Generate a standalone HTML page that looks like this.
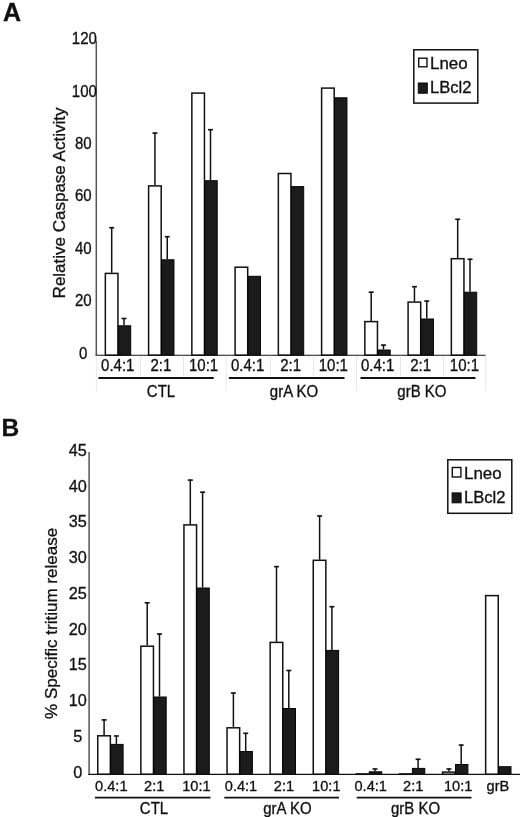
<!DOCTYPE html>
<html><head><meta charset="utf-8"><style>
html,body{margin:0;padding:0;background:#fff;}
svg{display:block;will-change:transform;}
text{font-family:"Liberation Sans", sans-serif;fill:#111;stroke:#111;stroke-width:0.3px;}
</style></head><body>
<svg width="520" height="817" viewBox="0 0 520 817">
<rect width="520" height="817" fill="#fff"/>
<text x="3" y="20.6" font-size="25" font-weight="bold">A</text>
<line x1="96.3" y1="40.7" x2="96.3" y2="355.2" stroke="#555" stroke-width="1.5"/>
<text transform="translate(83.3,358.75) scale(0.97,1.06)" font-size="15.5" text-anchor="middle">0</text>
<text transform="translate(83.3,306.31) scale(0.97,1.06)" font-size="15.5" text-anchor="middle">20</text>
<text transform="translate(83.3,253.87) scale(0.97,1.06)" font-size="15.5" text-anchor="middle">40</text>
<text transform="translate(83.3,201.43) scale(0.97,1.06)" font-size="15.5" text-anchor="middle">60</text>
<text transform="translate(83.3,148.99) scale(0.97,1.06)" font-size="15.5" text-anchor="middle">80</text>
<text transform="translate(84.4,96.55) scale(0.97,1.06)" font-size="15.5" text-anchor="middle">100</text>
<text transform="translate(84.4,44.11) scale(0.97,1.06)" font-size="15.5" text-anchor="middle">120</text>
<text transform="translate(64.8,203.0) rotate(-90)" font-size="16.3" text-anchor="middle" textLength="190.8" lengthAdjust="spacingAndGlyphs">Relative Caspase Activity</text>
<rect x="105.35" y="273.40" width="12.6" height="81.80" fill="#fff" stroke="#111" stroke-width="1.5"/>
<line x1="111.70" y1="227.20" x2="111.70" y2="272.80" stroke="#111" stroke-width="1.5"/>
<line x1="109.20" y1="227.70" x2="114.20" y2="227.70" stroke="#111" stroke-width="1.6"/>
<rect x="118.30" y="325.80" width="12.40" height="29.40" fill="#1b1b1b" stroke="#050505" stroke-width="1"/>
<line x1="124.00" y1="318.00" x2="124.00" y2="325.30" stroke="#111" stroke-width="1.5"/>
<line x1="121.50" y1="318.50" x2="126.50" y2="318.50" stroke="#111" stroke-width="1.6"/>
<rect x="148.60" y="185.90" width="12.6" height="169.30" fill="#fff" stroke="#111" stroke-width="1.5"/>
<line x1="154.95" y1="132.60" x2="154.95" y2="185.30" stroke="#111" stroke-width="1.5"/>
<line x1="152.45" y1="133.10" x2="157.45" y2="133.10" stroke="#111" stroke-width="1.6"/>
<rect x="161.55" y="259.80" width="12.40" height="95.40" fill="#1b1b1b" stroke="#050505" stroke-width="1"/>
<line x1="167.25" y1="236.20" x2="167.25" y2="259.30" stroke="#111" stroke-width="1.5"/>
<line x1="164.75" y1="236.70" x2="169.75" y2="236.70" stroke="#111" stroke-width="1.6"/>
<rect x="191.85" y="93.10" width="12.6" height="262.10" fill="#fff" stroke="#111" stroke-width="1.5"/>
<rect x="204.80" y="180.70" width="12.40" height="174.50" fill="#1b1b1b" stroke="#050505" stroke-width="1"/>
<line x1="210.50" y1="129.20" x2="210.50" y2="180.20" stroke="#111" stroke-width="1.5"/>
<line x1="208.00" y1="129.70" x2="213.00" y2="129.70" stroke="#111" stroke-width="1.6"/>
<rect x="235.10" y="267.20" width="12.6" height="88.00" fill="#fff" stroke="#111" stroke-width="1.5"/>
<rect x="248.05" y="276.30" width="12.40" height="78.90" fill="#1b1b1b" stroke="#050505" stroke-width="1"/>
<rect x="278.35" y="173.50" width="12.6" height="181.70" fill="#fff" stroke="#111" stroke-width="1.5"/>
<rect x="291.30" y="186.60" width="12.40" height="168.60" fill="#1b1b1b" stroke="#050505" stroke-width="1"/>
<rect x="321.60" y="88.10" width="12.6" height="267.10" fill="#fff" stroke="#111" stroke-width="1.5"/>
<rect x="334.55" y="97.80" width="12.40" height="257.40" fill="#1b1b1b" stroke="#050505" stroke-width="1"/>
<rect x="364.85" y="321.60" width="12.6" height="33.60" fill="#fff" stroke="#111" stroke-width="1.5"/>
<line x1="371.20" y1="291.70" x2="371.20" y2="321.00" stroke="#111" stroke-width="1.5"/>
<line x1="368.70" y1="292.20" x2="373.70" y2="292.20" stroke="#111" stroke-width="1.6"/>
<rect x="377.80" y="350.00" width="12.40" height="5.20" fill="#1b1b1b" stroke="#050505" stroke-width="1"/>
<line x1="383.50" y1="344.60" x2="383.50" y2="349.50" stroke="#111" stroke-width="1.5"/>
<line x1="381.00" y1="345.10" x2="386.00" y2="345.10" stroke="#111" stroke-width="1.6"/>
<rect x="408.10" y="302.10" width="12.6" height="53.10" fill="#fff" stroke="#111" stroke-width="1.5"/>
<line x1="414.45" y1="286.20" x2="414.45" y2="301.50" stroke="#111" stroke-width="1.5"/>
<line x1="411.95" y1="286.70" x2="416.95" y2="286.70" stroke="#111" stroke-width="1.6"/>
<rect x="421.05" y="319.00" width="12.40" height="36.20" fill="#1b1b1b" stroke="#050505" stroke-width="1"/>
<line x1="426.75" y1="300.60" x2="426.75" y2="318.50" stroke="#111" stroke-width="1.5"/>
<line x1="424.25" y1="301.10" x2="429.25" y2="301.10" stroke="#111" stroke-width="1.6"/>
<rect x="451.35" y="258.70" width="12.6" height="96.50" fill="#fff" stroke="#111" stroke-width="1.5"/>
<line x1="457.70" y1="218.80" x2="457.70" y2="258.10" stroke="#111" stroke-width="1.5"/>
<line x1="455.20" y1="219.30" x2="460.20" y2="219.30" stroke="#111" stroke-width="1.6"/>
<rect x="464.30" y="292.20" width="12.40" height="63.00" fill="#1b1b1b" stroke="#050505" stroke-width="1"/>
<line x1="470.00" y1="258.80" x2="470.00" y2="291.70" stroke="#111" stroke-width="1.5"/>
<line x1="467.50" y1="259.30" x2="472.50" y2="259.30" stroke="#111" stroke-width="1.6"/>
<line x1="95.55" y1="355.2" x2="485.6" y2="355.2" stroke="#111" stroke-width="1.15"/>
<line x1="140.50" y1="355.8" x2="140.50" y2="376" stroke="#e8e8e8" stroke-width="1"/>
<line x1="183.50" y1="355.8" x2="183.50" y2="376" stroke="#e8e8e8" stroke-width="1"/>
<line x1="226.10" y1="355.8" x2="226.10" y2="391.6" stroke="#e8e8e8" stroke-width="1"/>
<line x1="270.50" y1="355.8" x2="270.50" y2="376" stroke="#e8e8e8" stroke-width="1"/>
<line x1="313.50" y1="355.8" x2="313.50" y2="376" stroke="#e8e8e8" stroke-width="1"/>
<line x1="356.50" y1="355.8" x2="356.50" y2="391.6" stroke="#e8e8e8" stroke-width="1"/>
<line x1="400.50" y1="355.8" x2="400.50" y2="376" stroke="#e8e8e8" stroke-width="1"/>
<line x1="443.50" y1="355.8" x2="443.50" y2="376" stroke="#e8e8e8" stroke-width="1"/>
<line x1="485.60" y1="355.8" x2="485.60" y2="391.6" stroke="#e8e8e8" stroke-width="1"/>
<line x1="96.3" y1="355.8" x2="96.3" y2="391.6" stroke="#e8e8e8" stroke-width="1"/>
<text transform="translate(117.75,371.3) scale(1,1.08)" font-size="15" text-anchor="middle">0.4:1</text>
<text transform="translate(160.80,371.3) scale(1,1.08)" font-size="15" text-anchor="middle">2:1</text>
<text transform="translate(203.60,371.3) scale(1,1.08)" font-size="15" text-anchor="middle">10:1</text>
<text transform="translate(247.70,371.3) scale(1,1.08)" font-size="15" text-anchor="middle">0.4:1</text>
<text transform="translate(290.60,371.3) scale(1,1.08)" font-size="15" text-anchor="middle">2:1</text>
<text transform="translate(333.30,371.3) scale(1,1.08)" font-size="15" text-anchor="middle">10:1</text>
<text transform="translate(377.70,371.3) scale(1,1.08)" font-size="15" text-anchor="middle">0.4:1</text>
<text transform="translate(420.70,371.3) scale(1,1.08)" font-size="15" text-anchor="middle">2:1</text>
<text transform="translate(464.40,371.3) scale(1,1.08)" font-size="15" text-anchor="middle">10:1</text>
<line x1="98.4" y1="378" x2="213.7" y2="378" stroke="#111" stroke-width="1.8"/>
<text transform="translate(161,396.9) scale(1,1.06)" font-size="15" text-anchor="middle">CTL</text>
<line x1="228.9" y1="378" x2="344.5" y2="378" stroke="#111" stroke-width="1.8"/>
<text transform="translate(294,396.9) scale(1,1.06)" font-size="15" text-anchor="middle">grA KO</text>
<line x1="360.5" y1="378" x2="475.5" y2="378" stroke="#111" stroke-width="1.8"/>
<text transform="translate(421.9,396.9) scale(1,1.06)" font-size="15" text-anchor="middle">grB KO</text>
<rect x="413.8" y="49.8" width="64" height="53.3" fill="#fff" stroke="#111" stroke-width="1.5"/>
<rect x="418.7" y="58.2" width="8.3" height="8.6" fill="#fff" stroke="#111" stroke-width="1.4"/>
<rect x="418.3" y="83.0" width="9" height="10.2" fill="#1b1b1b" stroke="#050505" stroke-width="1"/>
<text x="430.0" y="68.5" font-size="16" textLength="37.6" lengthAdjust="spacingAndGlyphs">Lneo</text>
<text x="430.0" y="93.1" font-size="16" textLength="41.5" lengthAdjust="spacingAndGlyphs">LBcl2</text>
<text x="1.5" y="435.8" font-size="24.5" font-weight="bold">B</text>
<line x1="89.1" y1="452.1" x2="89.1" y2="774.3" stroke="#555" stroke-width="1.5"/>
<text x="77.7" y="777.70" font-size="16.3" text-anchor="middle">0</text>
<text x="77.7" y="741.93" font-size="16.3" text-anchor="middle">5</text>
<text x="77.7" y="706.16" font-size="16.3" text-anchor="middle">10</text>
<text x="77.7" y="670.39" font-size="16.3" text-anchor="middle">15</text>
<text x="77.7" y="634.62" font-size="16.3" text-anchor="middle">20</text>
<text x="77.7" y="598.85" font-size="16.3" text-anchor="middle">25</text>
<text x="77.7" y="563.08" font-size="16.3" text-anchor="middle">30</text>
<text x="77.7" y="527.31" font-size="16.3" text-anchor="middle">35</text>
<text x="77.7" y="491.54" font-size="16.3" text-anchor="middle">40</text>
<text x="77.7" y="455.77" font-size="16.3" text-anchor="middle">45</text>
<text transform="translate(57.3,623.4) rotate(-90)" font-size="16.5" text-anchor="middle" textLength="191" lengthAdjust="spacingAndGlyphs">% Specific tritium release</text>
<rect x="97.75" y="735.80" width="12.6" height="38.50" fill="#fff" stroke="#111" stroke-width="1.5"/>
<line x1="104.10" y1="719.40" x2="104.10" y2="735.20" stroke="#111" stroke-width="1.5"/>
<line x1="101.60" y1="719.90" x2="106.60" y2="719.90" stroke="#111" stroke-width="1.6"/>
<rect x="110.70" y="744.40" width="12.40" height="29.90" fill="#1b1b1b" stroke="#050505" stroke-width="1"/>
<line x1="116.40" y1="735.50" x2="116.40" y2="743.90" stroke="#111" stroke-width="1.5"/>
<line x1="113.90" y1="736.00" x2="118.90" y2="736.00" stroke="#111" stroke-width="1.6"/>
<rect x="140.85" y="646.20" width="12.6" height="128.10" fill="#fff" stroke="#111" stroke-width="1.5"/>
<line x1="147.20" y1="602.30" x2="147.20" y2="645.60" stroke="#111" stroke-width="1.5"/>
<line x1="144.70" y1="602.80" x2="149.70" y2="602.80" stroke="#111" stroke-width="1.6"/>
<rect x="153.80" y="697.00" width="12.40" height="77.30" fill="#1b1b1b" stroke="#050505" stroke-width="1"/>
<line x1="159.50" y1="633.50" x2="159.50" y2="696.50" stroke="#111" stroke-width="1.5"/>
<line x1="157.00" y1="634.00" x2="162.00" y2="634.00" stroke="#111" stroke-width="1.6"/>
<rect x="183.95" y="524.90" width="12.6" height="249.40" fill="#fff" stroke="#111" stroke-width="1.5"/>
<line x1="190.30" y1="479.60" x2="190.30" y2="524.30" stroke="#111" stroke-width="1.5"/>
<line x1="187.80" y1="480.10" x2="192.80" y2="480.10" stroke="#111" stroke-width="1.6"/>
<rect x="196.90" y="588.00" width="12.40" height="186.30" fill="#1b1b1b" stroke="#050505" stroke-width="1"/>
<line x1="202.60" y1="491.70" x2="202.60" y2="587.50" stroke="#111" stroke-width="1.5"/>
<line x1="200.10" y1="492.20" x2="205.10" y2="492.20" stroke="#111" stroke-width="1.6"/>
<rect x="227.05" y="727.80" width="12.6" height="46.50" fill="#fff" stroke="#111" stroke-width="1.5"/>
<line x1="233.40" y1="692.50" x2="233.40" y2="727.20" stroke="#111" stroke-width="1.5"/>
<line x1="230.90" y1="693.00" x2="235.90" y2="693.00" stroke="#111" stroke-width="1.6"/>
<rect x="240.00" y="751.50" width="12.40" height="22.80" fill="#1b1b1b" stroke="#050505" stroke-width="1"/>
<line x1="245.70" y1="732.80" x2="245.70" y2="751.00" stroke="#111" stroke-width="1.5"/>
<line x1="243.20" y1="733.30" x2="248.20" y2="733.30" stroke="#111" stroke-width="1.6"/>
<rect x="270.15" y="642.40" width="12.6" height="131.90" fill="#fff" stroke="#111" stroke-width="1.5"/>
<line x1="276.50" y1="566.10" x2="276.50" y2="641.80" stroke="#111" stroke-width="1.5"/>
<line x1="274.00" y1="566.60" x2="279.00" y2="566.60" stroke="#111" stroke-width="1.6"/>
<rect x="283.10" y="708.50" width="12.40" height="65.80" fill="#1b1b1b" stroke="#050505" stroke-width="1"/>
<line x1="288.80" y1="670.00" x2="288.80" y2="708.00" stroke="#111" stroke-width="1.5"/>
<line x1="286.30" y1="670.50" x2="291.30" y2="670.50" stroke="#111" stroke-width="1.6"/>
<rect x="313.25" y="560.30" width="12.6" height="214.00" fill="#fff" stroke="#111" stroke-width="1.5"/>
<line x1="319.60" y1="515.50" x2="319.60" y2="559.70" stroke="#111" stroke-width="1.5"/>
<line x1="317.10" y1="516.00" x2="322.10" y2="516.00" stroke="#111" stroke-width="1.6"/>
<rect x="326.20" y="650.40" width="12.40" height="123.90" fill="#1b1b1b" stroke="#050505" stroke-width="1"/>
<line x1="331.90" y1="606.20" x2="331.90" y2="649.90" stroke="#111" stroke-width="1.5"/>
<line x1="329.40" y1="606.70" x2="334.40" y2="606.70" stroke="#111" stroke-width="1.6"/>
<rect x="356.35" y="773.90" width="12.6" height="0.40" fill="#fff" stroke="#111" stroke-width="1.5"/>
<rect x="369.30" y="771.80" width="12.40" height="2.50" fill="#1b1b1b" stroke="#050505" stroke-width="1"/>
<line x1="375.00" y1="768.50" x2="375.00" y2="771.30" stroke="#111" stroke-width="1.5"/>
<line x1="372.50" y1="769.00" x2="377.50" y2="769.00" stroke="#111" stroke-width="1.6"/>
<rect x="399.45" y="773.90" width="12.6" height="0.40" fill="#fff" stroke="#111" stroke-width="1.5"/>
<rect x="412.40" y="768.40" width="12.40" height="5.90" fill="#1b1b1b" stroke="#050505" stroke-width="1"/>
<line x1="418.10" y1="758.80" x2="418.10" y2="767.90" stroke="#111" stroke-width="1.5"/>
<line x1="415.60" y1="759.30" x2="420.60" y2="759.30" stroke="#111" stroke-width="1.6"/>
<rect x="442.55" y="772.10" width="12.6" height="2.20" fill="#fff" stroke="#111" stroke-width="1.5"/>
<line x1="448.90" y1="768.50" x2="448.90" y2="771.50" stroke="#111" stroke-width="1.5"/>
<line x1="446.40" y1="769.00" x2="451.40" y2="769.00" stroke="#111" stroke-width="1.6"/>
<rect x="455.50" y="764.50" width="12.40" height="9.80" fill="#1b1b1b" stroke="#050505" stroke-width="1"/>
<line x1="461.20" y1="744.60" x2="461.20" y2="764.00" stroke="#111" stroke-width="1.5"/>
<line x1="458.70" y1="745.10" x2="463.70" y2="745.10" stroke="#111" stroke-width="1.6"/>
<rect x="485.65" y="595.60" width="12.6" height="178.70" fill="#fff" stroke="#111" stroke-width="1.5"/>
<rect x="498.60" y="766.70" width="12.40" height="7.60" fill="#1b1b1b" stroke="#050505" stroke-width="1"/>
<line x1="88.35" y1="774.3" x2="520" y2="774.3" stroke="#111" stroke-width="1.3"/>
<text transform="translate(111.30,790.7) scale(1,1.05)" font-size="14.6" text-anchor="middle">0.4:1</text>
<text transform="translate(154.20,790.7) scale(1,1.05)" font-size="14.6" text-anchor="middle">2:1</text>
<text transform="translate(196.40,790.7) scale(1,1.05)" font-size="14.6" text-anchor="middle">10:1</text>
<text transform="translate(241.00,790.7) scale(1,1.05)" font-size="14.6" text-anchor="middle">0.4:1</text>
<text transform="translate(284.00,790.7) scale(1,1.05)" font-size="14.6" text-anchor="middle">2:1</text>
<text transform="translate(326.30,790.7) scale(1,1.05)" font-size="14.6" text-anchor="middle">10:1</text>
<text transform="translate(370.70,790.7) scale(1,1.05)" font-size="14.6" text-anchor="middle">0.4:1</text>
<text transform="translate(413.20,790.7) scale(1,1.05)" font-size="14.6" text-anchor="middle">2:1</text>
<text transform="translate(458.10,790.7) scale(1,1.05)" font-size="14.6" text-anchor="middle">10:1</text>
<text transform="translate(497.90,790.7) scale(1,1.05)" font-size="14.6" text-anchor="middle">grB</text>
<line x1="95" y1="797.7" x2="210.5" y2="797.7" stroke="#111" stroke-width="1.8"/>
<text transform="translate(154,813.6) scale(1,1.05)" font-size="15" text-anchor="middle">CTL</text>
<line x1="224.3" y1="797.7" x2="339" y2="797.7" stroke="#111" stroke-width="1.8"/>
<text transform="translate(287.4,813.6) scale(1,1.05)" font-size="15" text-anchor="middle">grA KO</text>
<line x1="356.7" y1="797.7" x2="471.5" y2="797.7" stroke="#111" stroke-width="1.8"/>
<text transform="translate(415.5,813.6) scale(1,1.05)" font-size="15" text-anchor="middle">grB KO</text>
<rect x="447.8" y="459.8" width="64" height="53.5" fill="#fff" stroke="#111" stroke-width="1.5"/>
<rect x="452.3" y="467.5" width="8.6" height="9.5" fill="#fff" stroke="#111" stroke-width="1.4"/>
<rect x="452.1" y="492.9" width="9" height="9.9" fill="#1b1b1b" stroke="#050505" stroke-width="1"/>
<text x="464.0" y="478.7" font-size="16" textLength="37.6" lengthAdjust="spacingAndGlyphs">Lneo</text>
<text x="464.0" y="503.3" font-size="16" textLength="41.5" lengthAdjust="spacingAndGlyphs">LBcl2</text>
</svg>
</body></html>
